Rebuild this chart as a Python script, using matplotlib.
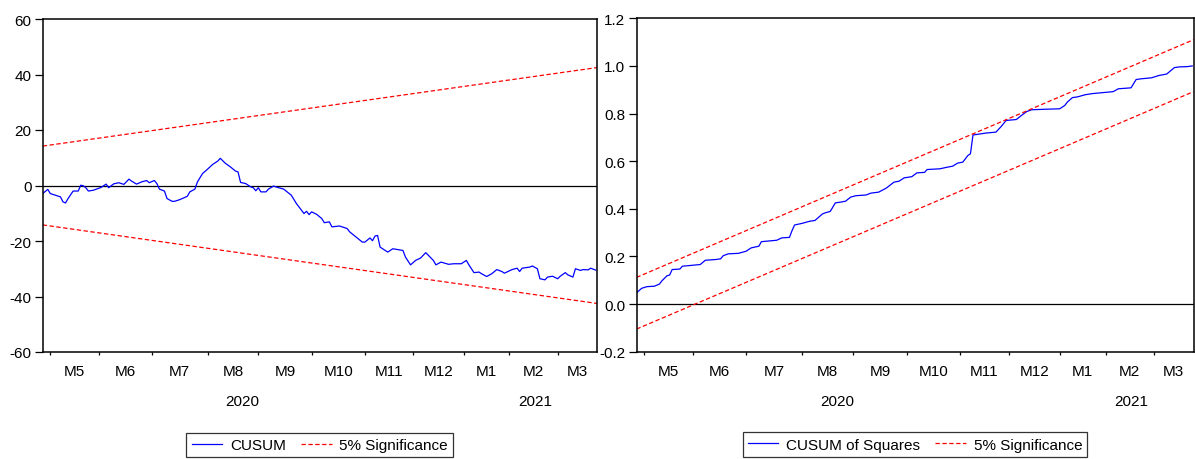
import matplotlib
matplotlib.use("Agg")
import matplotlib.pyplot as plt

plt.rcParams['font.family'] = ['Liberation Sans', 'DejaVu Sans']
plt.rcParams['font.size'] = 11

cusum_obs = [0, 2, 3, 5, 7, 8, 9, 10, 12, 14,
             15, 16, 17, 18, 20, 23, 25, 26, 28, 30,
             32, 34, 35, 37, 39, 41, 42, 44, 45, 46,
             48, 49, 51, 52, 54, 57, 58, 60, 61, 63,
             65, 67, 69, 70, 72, 74, 76, 77, 78, 80,
             82, 83, 84, 85, 86, 88, 89, 91, 93, 95,
             98, 100, 102, 103, 104, 105, 106, 108, 110, 111,
             113, 114, 117, 119, 120, 121, 123, 126, 127, 129,
             130, 131, 132, 133, 135, 136, 138, 140, 142, 143,
             145, 147, 149, 151, 154, 155, 157, 160, 162, 165,
             167, 168, 170, 172, 173, 175, 177, 179, 181, 182,
             185, 187, 188, 189, 192, 193, 195, 196, 198, 199,
             201, 203, 204, 206, 207, 209, 210, 212, 213, 215,
             216, 218]
cusum = [-2.9, -1.4, -2.9, -3.5, -4.1, -5.9, -6.3, -4.7, -2.0, -2.0,
         0.1, -0.1, -0.8, -2.0, -1.7, -0.7, 0.5, -0.8, 0.6, 1.0,
         0.4, 2.3, 1.6, 0.5, 1.3, 1.8, 1.0, 1.8, 0.7, -1.3,
         -2.0, -4.7, -5.7, -5.7, -5.1, -3.9, -2.3, -1.3, 1.3, 4.3,
         5.9, 7.6, 8.8, 9.8, 8.0, 6.7, 5.2, 4.9, 1.1, 0.7,
         -0.5, -0.8, -1.9, -0.8, -2.3, -2.3, -1.3, -0.2, -0.8, -1.3,
         -3.5, -6.5, -8.9, -10.1, -9.3, -10.5, -9.5, -10.4, -11.9, -13.4,
         -13.1, -14.9, -14.6, -15.2, -15.5, -16.7, -18.2, -20.4, -20.4, -18.9,
         -19.9, -18.2, -18.0, -22.2, -23.4, -24.0, -22.8, -23.1, -23.4, -25.8,
         -28.6, -27.0, -26.1, -24.2, -27.0, -28.6, -27.6, -28.4, -28.2, -28.2,
         -27.0, -28.6, -31.4, -31.2, -31.8, -32.8, -31.8, -30.3, -31.0, -31.6,
         -30.3, -29.8, -31.0, -29.8, -29.4, -29.0, -30.0, -33.6, -34.0, -33.0,
         -32.7, -33.6, -32.7, -31.4, -32.2, -33.0, -30.0, -30.6, -30.3, -30.4,
         -29.8, -30.5]

cusumsq_obs = [0, 2, 4, 7, 9, 10, 12, 13, 14, 17,
               18, 21, 25, 27, 31, 33, 34, 36, 40, 43,
               45, 48, 49, 52, 55, 57, 60, 61, 62, 65,
               68, 70, 73, 74, 76, 78, 80, 82, 84, 86,
               90, 92, 95, 98, 101, 103, 105, 108, 110, 113,
               114, 119, 122, 124, 126, 128, 130, 131, 132, 137,
               141, 143, 145, 149, 151, 153, 155, 160, 166, 168,
               169, 171, 173, 176, 179, 187, 189, 194, 196, 198,
               202, 205, 208, 211, 213, 216, 218]
cusumsq = [0.047, 0.066, 0.073, 0.075, 0.084, 0.098, 0.119, 0.122, 0.145, 0.147,
           0.159, 0.162, 0.166, 0.184, 0.187, 0.190, 0.203, 0.211, 0.213, 0.222,
           0.236, 0.243, 0.262, 0.265, 0.268, 0.278, 0.280, 0.308, 0.332, 0.339,
           0.348, 0.351, 0.379, 0.383, 0.389, 0.425, 0.428, 0.432, 0.449, 0.455,
           0.458, 0.466, 0.470, 0.487, 0.512, 0.516, 0.530, 0.535, 0.551, 0.553,
           0.565, 0.568, 0.575, 0.579, 0.592, 0.596, 0.624, 0.631, 0.710, 0.718,
           0.722, 0.745, 0.771, 0.775, 0.792, 0.808, 0.816, 0.818, 0.820, 0.834,
           0.848, 0.867, 0.870, 0.879, 0.884, 0.892, 0.904, 0.908, 0.943, 0.946,
           0.950, 0.960, 0.966, 0.993, 0.996, 0.997, 1.000]

# 5% significance bands (straight lines between first and last observation)
band_obs = [0, 218.5]
cusum_upper = [14.2, 42.5]
cusum_lower = [-14.2, -42.5]
sq_upper = [0.112, 1.11]
sq_lower = [-0.105, 0.892]

# month boundaries (observation numbers) and labels
month_starts = [3, 22, 43, 65, 85, 106, 127, 146, 166, 184, 203]
month_labels = ['M5', 'M6', 'M7', 'M8', 'M9', 'M10', 'M11', 'M12', 'M1', 'M2', 'M3']
year_boundary = 166
years = ['2020', '2021']
year_pos = [78.7, 194]

x_max = 218.5


def draw_panel(ax, obs, vals, upper, lower, ylim, yticks, ylabels, name):
    ax.plot(obs, vals, color='#0000FF', lw=0.9, label=name)
    ax.plot(band_obs, upper, color='#FF0000', lw=0.9, ls=(0, (3.5, 2)), label='5% Significance')
    ax.plot(band_obs, lower, color='#FF0000', lw=0.9, ls=(0, (3.5, 2)))
    ax.axhline(0, color='black', lw=0.9, zorder=1)
    ax.set_xlim(0, x_max)
    ax.set_ylim(*ylim)
    ax.set_yticks(yticks)
    ax.set_yticklabels(ylabels)
    ax.tick_params(axis='y', direction='out', length=5.5, width=0.9, pad=2.5, labelsize=11)

    # month ticks, with a longer one at the year change
    ax.set_xticks(month_starts)
    ax.set_xticklabels([])
    ax.tick_params(axis='x', which='major', direction='out', length=2.4, width=0.9)
    ax.set_xticks([year_boundary], minor=True)
    ax.tick_params(axis='x', which='minor', direction='out', length=5, width=0.9)

    trans = ax.get_xaxis_transform()
    edges = month_starts + [x_max]
    for i in range(len(month_labels)):
        mid = (edges[i] + edges[i + 1]) / 2
        ax.text(mid, -0.057, month_labels[i], transform=trans, ha='center', va='center', fontsize=11)
    for yr, pos in zip(years, year_pos):
        ax.text(pos, -0.147, yr, transform=trans, ha='center', va='center', fontsize=11)

    for s in ax.spines.values():
        s.set_linewidth(1.1)
        s.set_color('black')

    leg = ax.legend(loc='center', bbox_to_anchor=(0.5, -0.279), ncol=2, frameon=True, fancybox=False,
                    edgecolor='black', fontsize=11, handlelength=2.0, handletextpad=0.5,
                    columnspacing=1.0, borderpad=0.35)
    leg.get_frame().set_linewidth(0.9)


fig = plt.figure(figsize=(11.95, 4.6), dpi=100)
ax1 = fig.add_axes([42.7 / 1195, 107 / 460, 554.3 / 1195, 333 / 460])
ax2 = fig.add_axes([636.5 / 1195, 107.3 / 460, 557 / 1195, 333.4 / 460])

draw_panel(ax1, cusum_obs, cusum, cusum_upper, cusum_lower, (-60, 60),
           [-60, -40, -20, 0, 20, 40, 60], ['-60', '-40', '-20', '0', '20', '40', '60'], 'CUSUM')
draw_panel(ax2, cusumsq_obs, cusumsq, sq_upper, sq_lower, (-0.2, 1.2),
           [-0.2, 0.0, 0.2, 0.4, 0.6, 0.8, 1.0, 1.2],
           ['-0.2', '0.0', '0.2', '0.4', '0.6', '0.8', '1.0', '1.2'], 'CUSUM of Squares')

fig.savefig('out.png', dpi=100)
